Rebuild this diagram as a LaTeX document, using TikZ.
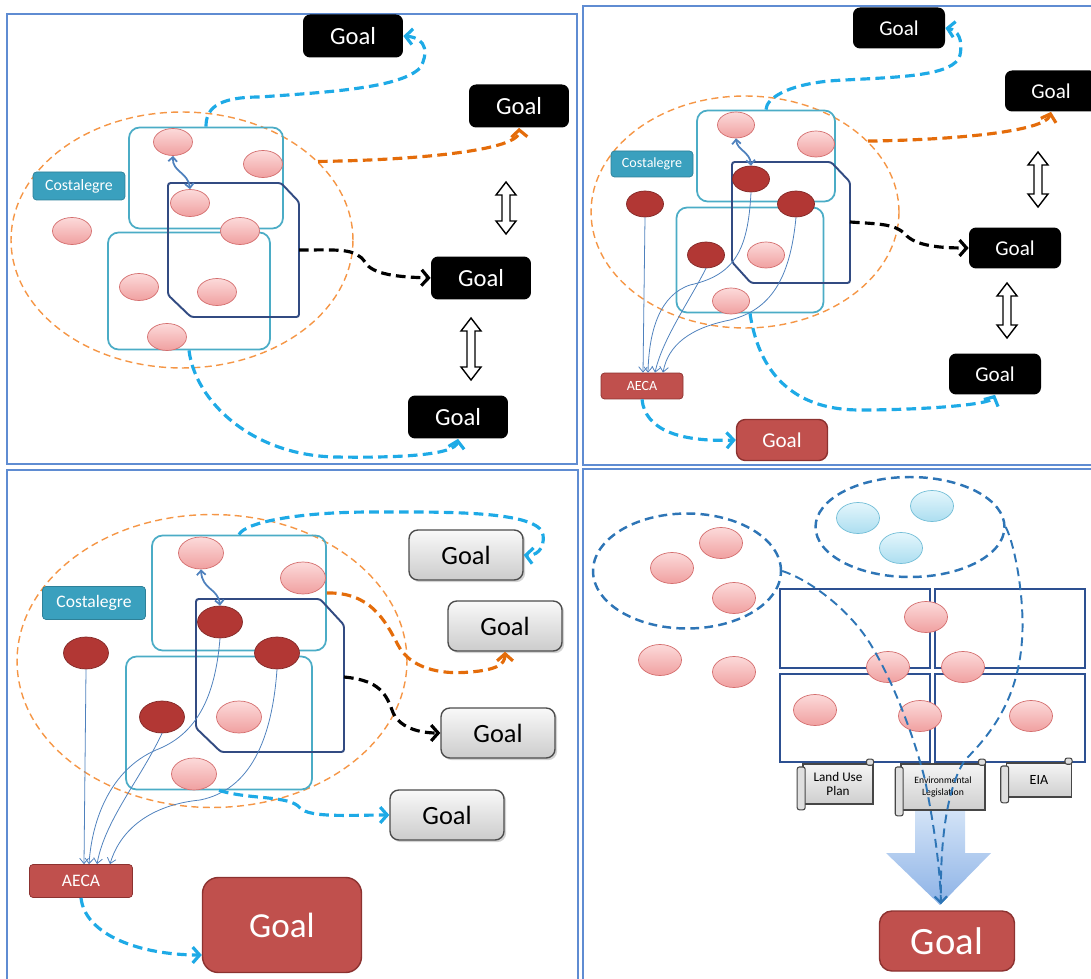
\documentclass[tikz,border=0pt]{standalone}
\usepackage{fontspec}
\setmainfont{Carlito}
\usepackage{xcolor}
\usepackage{tikz}
\usetikzlibrary{positioning, shapes.geometric, shadows, arrows.meta}

\definecolor{panelblue}{RGB}{95,140,210}
\definecolor{tealfill}{RGB}{58,160,190}
\definecolor{tealline}{RGB}{75,172,198}
\definecolor{redfill}{RGB}{192,80,77}
\definecolor{redline}{RGB}{140,50,48}
\definecolor{darkfill}{RGB}{178,55,52}
\definecolor{darkline}{RGB}{130,40,38}
\definecolor{pinktop}{RGB}{252,218,218}
\definecolor{pinkbot}{RGB}{240,160,160}
\definecolor{pinkline}{RGB}{212,110,110}
\definecolor{skytop}{RGB}{228,246,252}
\definecolor{skybot}{RGB}{172,222,240}
\definecolor{skyline}{RGB}{115,190,215}
\definecolor{flowblue}{RGB}{30,170,230}
\definecolor{floworange}{RGB}{228,108,10}
\definecolor{regionorange}{RGB}{245,150,70}
\definecolor{navy}{RGB}{50,75,130}
\definecolor{gridnavy}{RGB}{45,80,145}
\definecolor{linkblue}{RGB}{79,129,189}
\definecolor{dashblue}{RGB}{46,117,182}
\definecolor{arrowtop}{RGB}{215,230,248}
\definecolor{arrowbot}{RGB}{140,178,230}

% hollow up-down arrow: x, top y, bottom y
\newcommand{\updown}[3]{%
  \draw[hollow] (#1,#2) -- (#1+10,#2+13) -- (#1+4,#2+13) -- (#1+4,#3-13)
    -- (#1+10,#3-13) -- (#1,#3) -- (#1-10,#3-13) -- (#1-4,#3-13)
    -- (#1-4,#2+13) -- (#1-10,#2+13) -- cycle;}

\begin{document}
\begin{tikzpicture}[
        x=0.02cm, y=-0.02cm,
        panel/.style={draw=panelblue, line width=1.3pt},
        goal/.style={fill=black, text=white, rounded corners=4pt, inner sep=0pt, minimum width=2cm, minimum height=0.86cm, font=\fontsize{14}{16}\selectfont},
        redgoal/.style={fill=redfill, draw=redline, line width=0.8pt, text=white, rounded corners=5pt, inner sep=0pt},
        graygoal/.style={draw=gray!60!black, line width=0.8pt, top color=gray!5, bottom color=gray!40, rounded corners=5pt, inner sep=0pt, minimum width=2.28cm, minimum height=1cm, font=\fontsize{15}{17}\selectfont, drop shadow={opacity=0.35, shadow xshift=1.2pt, shadow yshift=-1.2pt}},
        tag/.style={fill=tealfill, draw=tealfill!80!black, text=white, rounded corners=2pt, inner sep=0pt},
        aeca/.style={fill=redfill, draw=redline, text=white, rounded corners=2pt, inner sep=0pt},
        region/.style={ellipse, draw=regionorange, line width=0.8pt, dash pattern=on 4pt off 2.5pt},
        zone/.style={draw=tealline, line width=1pt, rounded corners=6pt},
        octa/.style={draw=navy, line width=1.1pt, rounded corners=1.5pt},
        bead/.style={ellipse, inner sep=0pt, minimum width=0.78cm, minimum height=0.54cm},
        pink/.style={bead, draw=pinkline, top color=pinktop, bottom color=pinkbot},
        dark/.style={bead, draw=darkline, fill=darkfill},
        sky/.style={bead, draw=skyline, top color=skytop, bottom color=skybot},
        link/.style={{Straight Barb[length=2.5pt,width=5pt]}-{Straight Barb[length=2.5pt,width=5pt]}, draw=linkblue, line width=1pt},
        feed/.style={-{Straight Barb[length=3pt,width=5pt]}, draw=linkblue, line width=0.45pt},
        flow/.style={-{Straight Barb[length=4pt,width=9pt]}, draw=flowblue, line width=1.8pt, dash pattern=on 5.5pt off 3pt},
        flowo/.style={flow, draw=floworange},
        flowk/.style={flow, draw=black},
        hollow/.style={draw=black, fill=white, line width=0.8pt},
        grid/.style={draw=gridnavy, line width=1.4pt},
        scroll/.style={draw=gray!55!black, line width=0.6pt, top color=gray!8, bottom color=gray!38, inner sep=1pt, align=center},
        roll/.style={draw=gray!55!black, line width=0.6pt, fill=gray!25, rounded corners=1.2pt},
        bigarrow/.style={top color=arrowtop, bottom color=arrowbot, draw=none},
        ring/.style={ellipse, draw=dashblue, line width=1.4pt, dash pattern=on 5pt off 3pt},
        trace/.style={-{Straight Barb[length=3.5pt,width=7pt]}, draw=dashblue, line width=1.1pt, dash pattern=on 5pt off 3pt}
    ]
    \useasboundingbox (0,0) rectangle (1091,979);

    % Panel 1
    \draw[panel] (7,14) rectangle (577,464);
    \node[region, minimum width=6.84cm, minimum height=5.12cm] (reg1) at (182,240) {};
    \node[zone, minimum width=3.08cm, minimum height=2.02cm] (zone1a) at (206,178) {};
    \node[zone, minimum width=3.24cm, minimum height=2.34cm] (zone1b) at (189,291) {};
    \draw[octa] (168,183) -- (281,183) -- (299,202) -- (299,317) -- (191,317) -- (168,295) -- cycle;
    \coordinate (oct1) at (299,250);
    \node[tag, minimum width=1.84cm, minimum height=0.56cm, font=\fontsize{9}{10}\selectfont] (costa1) at (79,186) {Costalegre};
    \node[pink] (e1a) at (173,142) {};
    \node[pink] (e1b) at (263,164) {};
    \node[pink] (e1c) at (190,203) {};
    \node[pink] (e1d) at (240,231) {};
    \node[pink] (e1e) at (72,231) {};
    \node[pink] (e1f) at (139,287) {};
    \node[pink] (e1g) at (217,292) {};
    \node[pink] (e1h) at (167,337) {};
    \node[goal] (g1a) at (353,36) {Goal};
    \node[goal] (g1b) at (519,106) {Goal};
    \node[goal] (g1c) at (481,278) {Goal};
    \node[goal] (g1d) at (458,417) {Goal};
    \updown{506}{182}{234}
    \updown{471}{318}{380}

    \draw[link] (e1a.south) .. controls (172,172) and (188,172) .. (e1c.north);
    \draw[flow] (zone1a.north) .. controls (206,110) and (215,97) .. (260,97) .. controls (330,92) and (400,88) .. (420,68) .. controls (428,55) and (428,38) .. (g1a.east);
    \draw[flowo] (reg1.30) .. controls (420,160) and (520,150) .. (g1b.south);
    \draw[flowk] (oct1) .. controls (340,250) and (355,248) .. (365,262) .. controls (372,275) and (400,277) .. (g1c.west);
    \draw[flow] (zone1b.south) .. controls (195,400) and (250,455) .. (335,457) .. controls (400,458) and (455,455) .. (g1d.south);

    % Panel 2
    \draw[panel] (583,6) rectangle (1100,465);
    \begin{scope}[bead/.append style={minimum width=0.74cm, minimum height=0.52cm},
                  goal/.append style={minimum width=1.84cm, minimum height=0.82cm, font=\fontsize{12}{14}\selectfont}]
    \node[region, minimum width=6.16cm, minimum height=4.64cm] (reg2) at (745,212) {};
    \node[zone, minimum width=2.76cm, minimum height=1.82cm] (zone2a) at (766,156) {};
    \node[zone, minimum width=2.94cm, minimum height=2.1cm] (zone2b) at (750,260) {};
    \draw[octa] (732,162) -- (831,162) -- (850,182) -- (850,283) -- (751,283) -- (732,262) -- cycle;
    \coordinate (oct2) at (850,222);
    \node[tag, minimum width=1.64cm, minimum height=0.52cm, font=\fontsize{8}{9}\selectfont] (costa2) at (652,164) {Costalegre};
    \node[aeca, minimum width=1.64cm, minimum height=0.52cm, font=\fontsize{8}{9}\selectfont] (aeca2) at (642,386) {AECA};
    \node[pink] (e2a) at (736,125) {};
    \node[pink] (e2b) at (816,144) {};
    \node[dark] (e2c) at (751,179) {};
    \node[dark] (e2d) at (796,204) {};
    \node[dark] (e2e) at (645,204) {};
    \node[dark] (e2f) at (706,255) {};
    \node[pink] (e2g) at (766,255) {};
    \node[pink] (e2h) at (731,301) {};
    \node[goal] (g2a) at (899,28) {Goal};
    \node[goal] (g2b) at (1051,91) {Goal};
    \node[goal] (g2c) at (1015,248) {Goal};
    \node[goal] (g2d) at (995,374) {Goal};
    \node[redgoal, minimum width=1.82cm, minimum height=0.82cm, font=\fontsize{12}{14}\selectfont] (r2) at (782,440) {Goal};
    \updown{1038}{152}{207}
    \updown{1007}{283}{338}

    \draw[link] (e2a.south) .. controls (737,150) and (750,152) .. (e2c.north);
    \draw[feed] (e2e.south) -- ([xshift=0.02cm]aeca2.north);
    \draw[feed] (e2c.south) .. controls (748,250) and (735,275) .. (690,285) .. controls (660,295) and (649,330) .. ([xshift=0.12cm]aeca2.north);
    \draw[feed] (e2f.south) .. controls (690,300) and (662,340) .. ([xshift=0.26cm]aeca2.north);
    \draw[feed] (e2d.south) .. controls (790,280) and (770,310) .. (730,320) .. controls (690,328) and (668,345) .. ([xshift=0.42cm]aeca2.north);
    \draw[flow] (zone2a.north) .. controls (766,98) and (790,82) .. (845,80) .. controls (900,77) and (955,76) .. (960,55) .. controls (963,40) and (958,30) .. (g2a.east);
    \draw[flowo] (reg2.30) .. controls (950,140) and (1045,132) .. (g2b.south);
    \draw[flowk] (oct2) .. controls (880,224) and (895,224) .. (905,234) .. controls (915,246) and (940,248) .. (g2c.west);
    \draw[flow] (zone2b.south) .. controls (760,380) and (800,410) .. (860,410) .. controls (920,410) and (990,405) .. (g2d.south);
    \draw[flow] (aeca2.south) .. controls (645,430) and (680,442) .. (r2.west);
    \end{scope}

    % Panel 3
    \draw[panel] (7,470) rectangle (578,995);
    \begin{scope}[bead/.append style={minimum width=0.9cm, minimum height=0.64cm}]
    \node[region, minimum width=7.8cm, minimum height=5.86cm] (reg3) at (212,661) {};
    \node[zone, minimum width=3.48cm, minimum height=2.3cm] (zone3a) at (239,593) {};
    \node[zone, minimum width=3.72cm, minimum height=2.66cm] (zone3b) at (219,723) {};
    \draw[octa] (196,599) -- (320,599) -- (344,625) -- (344,752) -- (221,752) -- (196,728) -- cycle;
    \coordinate (oct3) at (344,677);
    \node[tag, minimum width=2.06cm, minimum height=0.66cm, font=\fontsize{10}{12}\selectfont] (costa3) at (94,603) {Costalegre};
    \node[aeca, minimum width=2.06cm, minimum height=0.66cm, font=\fontsize{10}{12}\selectfont] (aeca3) at (81,881) {AECA};
    \node[pink] (e3a) at (201,553) {};
    \node[pink] (e3b) at (303,578) {};
    \node[dark] (e3c) at (220,622) {};
    \node[dark] (e3d) at (277,653) {};
    \node[dark] (e3e) at (86,653) {};
    \node[dark] (e3f) at (162,717) {};
    \node[pink] (e3g) at (239,717) {};
    \node[pink] (e3h) at (194,774) {};
    \node[graygoal] (gg1) at (466,555) {Goal};
    \node[graygoal] (gg2) at (505,626) {Goal};
    \node[graygoal] (gg3) at (498,733) {Goal};
    \node[graygoal] (gg4) at (447,815) {Goal};
    \node[redgoal, minimum width=3.18cm, minimum height=1.9cm, rounded corners=9pt, font=\fontsize{20}{24}\selectfont] (rb3) at (282,925) {Goal};

    \draw[link] (e3a.south) .. controls (202,590) and (218,588) .. (e3c.north);
    \draw[feed] (e3e.south) -- ([xshift=0.06cm]aeca3.north);
    \draw[feed] (e3c.south) .. controls (215,700) and (195,735) .. (156,750) .. controls (110,770) and (92,820) .. ([xshift=0.16cm]aeca3.north);
    \draw[feed] (e3f.south) .. controls (140,780) and (105,820) .. ([xshift=0.32cm]aeca3.north);
    \draw[feed] (e3d.south) .. controls (272,740) and (250,790) .. (200,800) .. controls (150,805) and (120,830) .. ([xshift=0.58cm]aeca3.north);
    \draw[flow] (zone3a.north) .. controls (245,522) and (300,512) .. (372,512) .. controls (440,512) and (540,510) .. (543,535) .. controls (545,550) and (535,556) .. (gg1.east);
    \draw[flowo] (zone3a.east) .. controls (370,592) and (385,620) .. (398,645) .. controls (410,668) and (440,675) .. (470,672) .. controls (495,670) and (505,665) .. (gg2.south);
    \draw[flowk] (oct3) .. controls (375,680) and (385,690) .. (392,710) .. controls (398,728) and (420,733) .. (gg3.west);
    \draw[flow] (zone3b.south) .. controls (250,800) and (290,795) .. (300,808) .. controls (310,818) and (350,815) .. (gg4.west);
    \draw[flow] (aeca3.south) .. controls (85,935) and (140,955) .. ([yshift=-0.6cm]rb3.west);
    \end{scope}

    % Panel 4
    \draw[panel] (583,469) rectangle (1100,995);
    \begin{scope}[bead/.append style={minimum width=0.86cm, minimum height=0.62cm}]
    \node[ring, minimum width=3.76cm, minimum height=2.3cm] (reg4a) at (687,571) {};
    \node[ring, minimum width=3.78cm, minimum height=2cm] (reg4b) at (910,527) {};
    \node[sky] (c4a) at (858,518) {};
    \node[sky] (c4b) at (932,506) {};
    \node[sky] (c4c) at (901,548) {};
    \node[pink] (e4a) at (721,543) {};
    \node[pink] (e4b) at (672,568) {};
    \node[pink] (e4c) at (734,598) {};
    \node[pink] (e4d) at (660,660) {};
    \node[pink] (e4e) at (734,672) {};
    \draw[grid] (780,589) rectangle (930,668);
    \draw[grid] (935,589) rectangle (1085,668);
    \draw[grid] (780,674) rectangle (930,762);
    \draw[grid] (935,674) rectangle (1085,762);
    \node[pink] (e4f) at (926,617) {};
    \node[pink] (e4g) at (888,667) {};
    \node[pink] (e4h) at (963,667) {};
    \node[pink] (e4i) at (815,710) {};
    \node[pink] (e4j) at (920,716) {};
    \node[pink] (e4k) at (1031,716) {};
    \shade[bigarrow] (915,805) -- (965,805) -- (965,853) -- (991,853) -- (940,905) -- (886,853) -- (915,853) -- cycle;
    \node[scroll, minimum width=1.4cm, minimum height=0.8cm, font=\fontsize{7.5}{8.5}\selectfont] (land) at (838,784) {Land Use\\Plan};
    \node[scroll, minimum width=1.68cm, minimum height=0.92cm, font=\fontsize{5.5}{7}\selectfont] (legis) at (943,787) {Environmental\\Legislation};
    \node[scroll, minimum width=1.3cm, minimum height=0.68cm, font=\fontsize{8}{9}\selectfont] (eia) at (1039,780) {EIA};
    \draw[roll] ([xshift=-3pt,yshift=-2pt]land.north west) rectangle ([xshift=1.5pt,yshift=-3pt]land.south west);
    \draw[roll] ([xshift=-4pt,yshift=2.5pt]land.north east) rectangle ([yshift=-1pt]land.north east);
    \draw[roll] ([xshift=-3pt,yshift=-2pt]legis.north west) rectangle ([xshift=1.5pt,yshift=-3pt]legis.south west);
    \draw[roll] ([xshift=-4pt,yshift=2.5pt]legis.north east) rectangle ([yshift=-1pt]legis.north east);
    \draw[roll] ([xshift=-3pt,yshift=-2pt]eia.north west) rectangle ([xshift=1.5pt,yshift=-3pt]eia.south west);
    \draw[roll] ([xshift=-4pt,yshift=2.5pt]eia.north east) rectangle ([yshift=-1pt]eia.north east);
    \node[redgoal, minimum width=2.7cm, minimum height=1.2cm, rounded corners=7pt, font=\fontsize{22}{26}\selectfont] (rg4) at (947,941) {Goal};
    \coordinate (tip4) at (941,904);

    \draw[trace] (reg4a.east) .. controls (810,580) and (850,610) .. (871,645) .. controls (895,685) and (915,740) .. (925,780) .. controls (935,830) and (940,870) .. (tip4);
    \draw[trace] (reg4b.east) .. controls (1015,545) and (1025,600) .. (1022,640) .. controls (1018,700) and (990,735) .. (965,760) .. controls (945,790) and (940,850) .. (tip4);
    \end{scope}

\end{tikzpicture}
\end{document}
